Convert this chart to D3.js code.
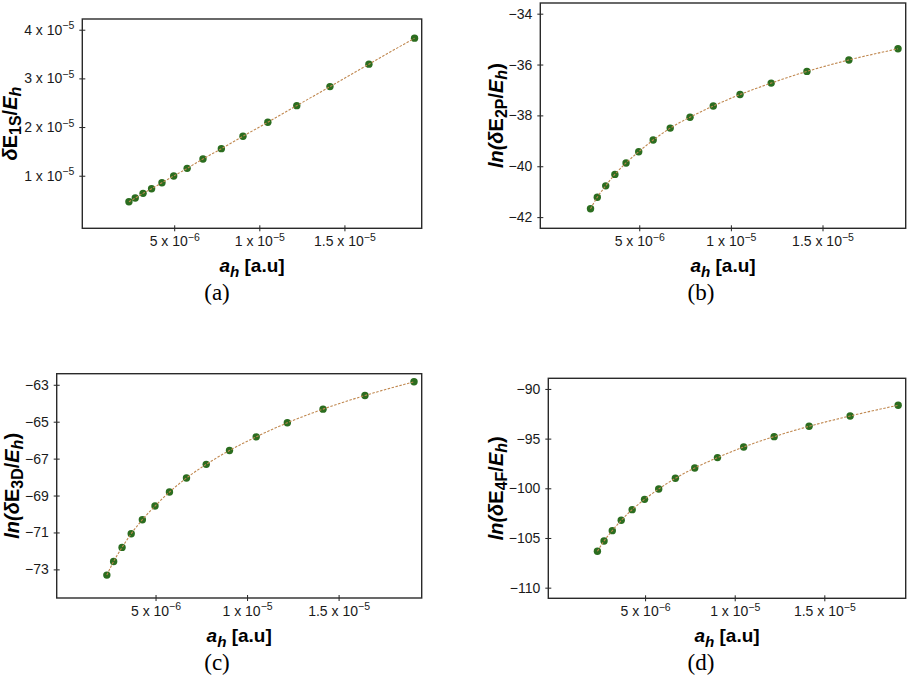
<!DOCTYPE html>
<html>
<head>
<meta charset="utf-8">
<script src="https://cdn.jsdelivr.net/npm/d3@7"></script>
<style>
  body { margin: 0; background: #fff; }
  svg { display: block; }
</style>
</head>
<body>
<div id="chart"></div>
<script>
// values
const aH = [2.34e-6, 2.71e-6, 3.17e-6, 3.67e-6, 4.28e-6, 4.97e-6, 5.76e-6, 6.69e-6,
            7.77e-6, 9.04e-6, 10.5e-6, 12.2e-6, 14.15e-6, 16.44e-6, 19.12e-6];
const dE1S = [0.465e-5, 0.541e-5, 0.638e-5, 0.733e-5, 0.856e-5, 0.994e-5, 1.152e-5, 1.344e-5,
              1.556e-5, 1.811e-5, 2.099e-5, 2.440e-5, 2.831e-5, 3.292e-5, 3.827e-5];
const lnE2P = [-41.67, -41.22, -40.77, -40.32, -39.87, -39.43, -38.97, -38.50,
               -38.07, -37.63, -37.18, -36.73, -36.27, -35.82, -35.38];
const lnE3D = [-73.31, -72.57, -71.81, -71.07, -70.31, -69.57, -68.81, -68.05,
               -67.31, -66.56, -65.82, -65.06, -64.32, -63.58, -62.84];
const lnE4F = [-106.34, -105.30, -104.26, -103.22, -102.15, -101.11, -100.07, -98.99,
               -97.95, -96.91, -95.84, -94.80, -93.76, -92.72, -91.64];

const xTicks = [5e-6, 1e-5, 1.5e-5];
const xTickLabels = [["5", "−6"], ["1", "−5"], ["1.5", "−5"]];
const yTicksA = [1e-5, 2e-5, 3e-5, 4e-5];
const yTickLabelsA = [["1", "−5"], ["2", "−5"], ["3", "−5"], ["4", "−5"]];
const yTicksB = [-42, -40, -38, -36, -34];
const yTicksC = [-73, -71, -69, -67, -65, -63];
const yTicksD = [-110, -105, -100, -95, -90];

const xDomain = [-0.4e-6, 19.54e-6];

const width = 907, height = 677;
const svg = d3.select("#chart").append("svg")
    .attr("width", width)
    .attr("height", height);

// layout of the four panels
const panels = [
  { box: [82.3, 421.7, 19, 228.3], yDomain: [-0.08e-5, 4.22e-5], y: dE1S,
    yTicks: yTicksA, yLabels: yTickLabelsA, labelOff: 65, capX: 217, caption: "(a)",
    ylab: [{t: "δ", it: true}, {t: "E"}, {t: "1S", sub: true}, {t: "/"}, {t: "E", it: true}, {t: "h", it: true, sub: true}] },
  { box: [540.3, 905.7, 3, 228.3], yDomain: [-42.44, -33.58], y: lnE2P,
    yTicks: yTicksB, labelOff: 37, capX: 701, caption: "(b)",
    ylab: [{t: "ln(", it: true}, {t: "δ", it: true}, {t: "E"}, {t: "2P", sub: true}, {t: "/"}, {t: "E", it: true}, {t: "h", it: true, sub: true}, {t: ")"}] },
  { box: [56.7, 421.7, 373.7, 598], yDomain: [-74.55, -62.40], y: lnE3D,
    yTicks: yTicksC, labelOff: 38.2, capX: 217, caption: "(c)",
    ylab: [{t: "ln(", it: true}, {t: "δ", it: true}, {t: "E"}, {t: "3D", sub: true}, {t: "/"}, {t: "E", it: true}, {t: "h", it: true, sub: true}, {t: ")"}] },
  { box: [548.3, 905.7, 378.3, 598.3], yDomain: [-111.07, -88.93], y: lnE4F,
    yTicks: yTicksD, labelOff: 45, capX: 701, caption: "(d)",
    ylab: [{t: "ln(", it: true}, {t: "δ", it: true}, {t: "E"}, {t: "4F", sub: true}, {t: "/"}, {t: "E", it: true}, {t: "h", it: true, sub: true}, {t: ")"}] }
];

const xlab = [{t: "a", it: true}, {t: "h", it: true, sub: true}, {t: " [a.u]"}];

// writes a list of pieces (italic / subscript) into a text element
function richText(text, parts, subShift) {
  let shifted = 0;
  parts.forEach(p => {
    const ts = text.append("tspan").text(p.t);
    if (p.it) ts.style("font-style", "italic");
    const want = p.sub ? subShift : 0;
    if (want !== shifted) { ts.attr("dy", want - shifted); shifted = want; }
    if (p.sub) ts.style("font-size", "0.8em");
  });
}

// "m x 10^e" tick label
function sciLabel(text, m, e) {
  text.text(null);
  text.append("tspan").text(m + " x 10");
  text.append("tspan").attr("dy", -5.5).attr("font-size", 10.5).text(e);
}

panels.forEach(p => {
  const [x0, x1, y0, y1] = p.box;
  const x = d3.scaleLinear().domain(xDomain).range([x0, x1]);
  const y = d3.scaleLinear().domain(p.yDomain).range([y1, y0]);

  const g = svg.append("g");

  // bottom axis
  const gx = g.append("g")
      .attr("transform", `translate(0,${y1})`)
      .call(d3.axisBottom(x).tickValues(xTicks).tickSize(3).tickPadding(5));
  gx.selectAll(".tick line").attr("y1", -3).attr("y2", 3);
  gx.selectAll(".tick text").each(function(d, i) {
    sciLabel(d3.select(this), xTickLabels[i][0], xTickLabels[i][1]);
  });

  // left axis
  const yAxis = d3.axisLeft(y).tickValues(p.yTicks).tickSize(3).tickPadding(5);
  if (!p.yLabels) yAxis.tickFormat(d => String(d).replace("-", "−"));
  const gy = g.append("g")
      .attr("transform", `translate(${x0},0)`)
      .call(yAxis);
  gy.selectAll(".tick line").attr("x1", -3).attr("x2", 3);
  if (p.yLabels) {
    gy.selectAll(".tick text").each(function(d, i) {
      sciLabel(d3.select(this), p.yLabels[i][0], p.yLabels[i][1]);
    });
  }

  [gx, gy].forEach(a => {
    a.attr("font-size", 14)
        .attr("font-family", "'Liberation Sans', Arial, sans-serif");
    a.select(".domain").remove();
    a.selectAll(".tick line").attr("stroke", "#222").attr("stroke-width", 1);
    a.selectAll(".tick text").attr("fill", "#1a1a1a");
  });

  // frame
  g.append("rect")
      .attr("x", x0).attr("y", y0)
      .attr("width", x1 - x0).attr("height", y1 - y0)
      .attr("fill", "none")
      .attr("stroke", "#2a2a2a")
      .attr("stroke-width", 1.4);

  const pts = aH.map((a, i) => [a, p.y[i]]);

  // points
  g.selectAll(".dot")
      .data(pts)
      .enter()
      .append("circle")
      .attr("class", "dot")
      .attr("cx", d => x(d[0]))
      .attr("cy", d => y(d[1]))
      .attr("r", 3.7)
      .attr("fill", "#2b6d1f");

  // dashed fit line over the points
  const line = d3.line()
      .x(d => x(d[0]))
      .y(d => y(d[1]))
      .curve(d3.curveMonotoneX);
  g.append("path")
      .datum(pts)
      .attr("d", line)
      .attr("fill", "none")
      .attr("stroke", "#c08850")
      .attr("stroke-width", 1.1)
      .attr("stroke-dasharray", "2.5,1.5");

  // x label
  const tx = g.append("text")
      .attr("x", (x0 + x1) / 2)
      .attr("y", y1 + 44)
      .attr("text-anchor", "middle")
      .style("font-family", "'Liberation Sans', Arial, sans-serif")
      .style("font-weight", "bold")
      .style("font-size", "19px");
  richText(tx, xlab, 5);

  // y label
  const ty = g.append("text")
      .attr("transform", `translate(${x0 - p.labelOff},${(y0 + y1) / 2}) rotate(-90)`)
      .attr("text-anchor", "middle")
      .style("font-family", "'Liberation Sans', Arial, sans-serif")
      .style("font-weight", "bold")
      .style("font-size", "20px");
  richText(ty, p.ylab, 4);

  // caption
  g.append("text")
      .attr("x", p.capX)
      .attr("y", y1 + 72)
      .attr("text-anchor", "middle")
      .style("font-family", "'Liberation Serif', 'Times New Roman', serif")
      .style("font-size", "23px")
      .text(p.caption);
});
</script>
</body>
</html>
